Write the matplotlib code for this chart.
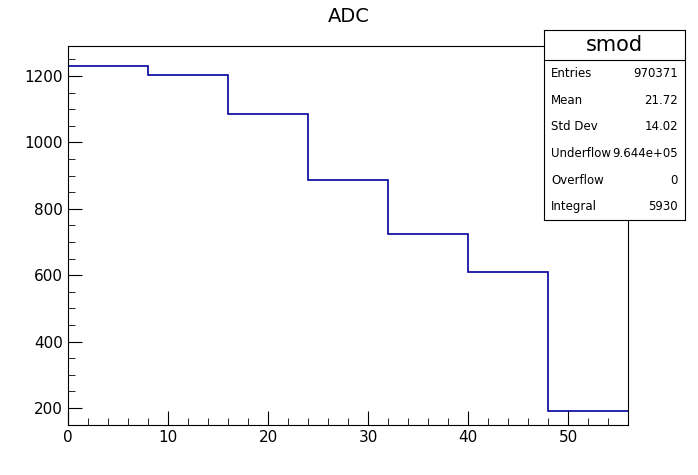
import matplotlib.pyplot as plt
from matplotlib.ticker import MultipleLocator

bin_edges = [0, 8, 16, 24, 32, 40, 48, 56]
counts = [1230, 1203, 1085, 886, 724, 610, 192]
stat_names = ["Entries", "Mean", "Std Dev", "Underflow", "Overflow", "Integral"]
stat_values = ["970371", "21.72", "14.02", "9.644e+05", "0", "5930"]

W, H = 698, 475
fig = plt.figure(figsize=(W / 100, H / 100), dpi=100)
ax = fig.add_axes([68 / W, 1 - 425 / H, 560 / W, 379 / H])

ax.stairs(counts, bin_edges, color="#000099", lw=1.2, baseline=None)
ax.set_xlim(0, 56)
ax.set_ylim(149, 1290)
ax.xaxis.set_major_locator(MultipleLocator(10))
ax.xaxis.set_minor_locator(MultipleLocator(2))
ax.yaxis.set_major_locator(MultipleLocator(200))
ax.yaxis.set_minor_locator(MultipleLocator(50))
ax.tick_params(which="both", direction="in", top=False, right=False, labelsize=11)
ax.tick_params(which="major", length=10)
ax.tick_params(which="minor", length=5)
for s in ax.spines.values():
    s.set_linewidth(0.8)

fig.text(349 / W, 1 - 17 / H, "ADC", ha="center", va="center", fontsize=14)

# stats box
bx0, bx1, by0, by1 = 544, 685, 30, 220
box = fig.add_axes([bx0 / W, 1 - by1 / H, (bx1 - bx0) / W, (by1 - by0) / H])
box.set_xlim(0, 1)
box.set_ylim(0, 1)
box.set_xticks([])
box.set_yticks([])
for s in box.spines.values():
    s.set_linewidth(0.8)
hdr = 30 / (by1 - by0)
box.axhline(1 - hdr, color="black", lw=0.8)
box.text(0.5, 1 - hdr / 2, "smod", ha="center", va="center", fontsize=15)
row_h = (1 - hdr) / len(stat_names)
for i, (n, v) in enumerate(zip(stat_names, stat_values)):
    y = 1 - hdr - row_h * (i + 0.5)
    box.text(0.05, y, n, ha="left", va="center", fontsize=8.5)
    box.text(0.95, y, v, ha="right", va="center", fontsize=8.5)

fig.savefig("out.png", dpi=100)
